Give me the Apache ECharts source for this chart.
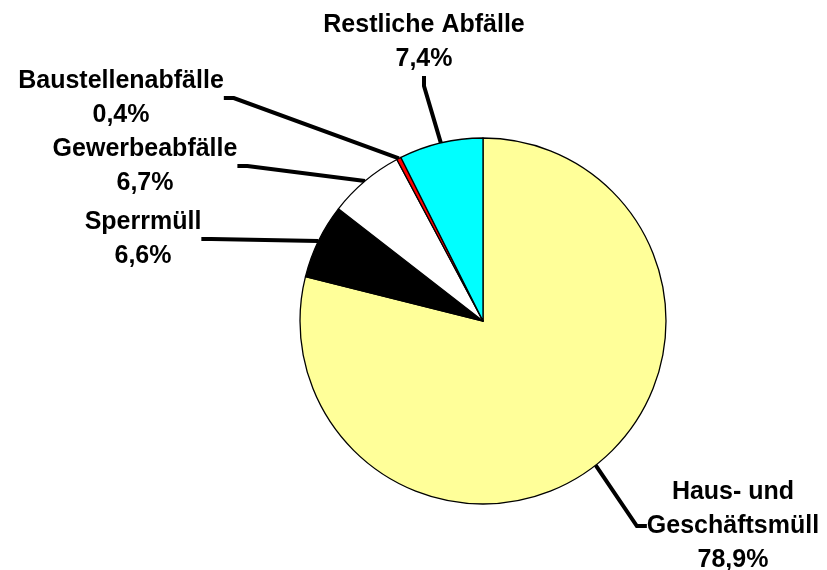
<!DOCTYPE html>
<html><head><meta charset="utf-8">
<script src="https://cdn.jsdelivr.net/npm/echarts@6/dist/echarts.min.js"></script>
<style>html,body{margin:0;padding:0;background:#fff}#c{width:827px;height:570px}</style>
</head><body><div id="c"></div>
<script>
const categories = ["Haus- und\nGeschäftsmüll", "Sperrmüll", "Gewerbeabfälle", "Baustellenabfälle", "Restliche Abfälle"];
const values = [78.9, 6.6, 6.7, 0.4, 7.4];
const colors = ["#FFFF99", "#000000", "#FFFFFF", "#FF0000", "#00FFFF"];
const labelPos = [[733, 526], [143, 239], [145, 166], [121, 98], [424, 42]];

const chart = echarts.init(document.getElementById('c'));
chart.setOption({
  animation: false,
  series: [{
    type: 'pie',
    center: [483, 321],
    radius: 183,
    startAngle: 90,
    clockwise: true,
    avoidLabelOverlap: false,
    data: categories.map((n, i) => ({ name: n, value: values[i], itemStyle: { color: colors[i] } })),
    itemStyle: { borderColor: '#000', borderWidth: 1.3 },
    label: {
      show: true,
      position: 'outside',
      fontFamily: 'Liberation Sans, Arial, sans-serif',
      fontWeight: 'bold',
      fontSize: 25,
      lineHeight: 34,
      color: '#000',
      align: 'center',
      formatter: p => p.name + '\n' + p.value.toFixed(1).replace('.', ',') + '%'
    },
    labelLine: { show: true, length: 20, length2: 10, lineStyle: { color: '#000', width: 4 } },
    labelLayout: p => ({ x: labelPos[p.dataIndex][0], y: labelPos[p.dataIndex][1], align: 'center', verticalAlign: 'middle' }),
    emphasis: { disabled: true }
  }]
});
</script></body></html>
